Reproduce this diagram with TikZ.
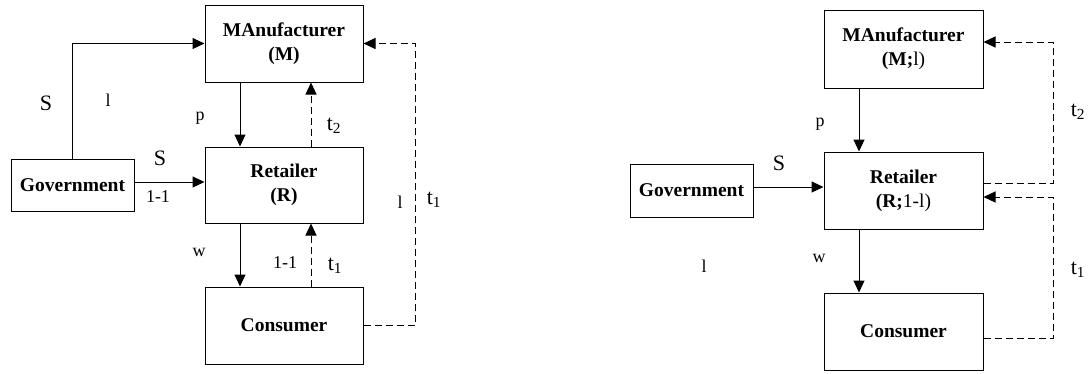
\documentclass[tikz,border=0pt]{standalone}
\usepackage{fontspec}
\setmainfont{Liberation Serif}
\usetikzlibrary{arrows.meta}
\begin{document}
\begin{tikzpicture}[x=1pt,y=-1pt,
  box/.style={draw,line width=1pt,minimum width=158pt,minimum height=77pt,inner sep=0pt,align=center,
    font=\rmfamily\fontsize{19.5}{24}\selectfont\bfseries},
  gbox/.style={draw,line width=1pt,minimum width=123pt,minimum height=52pt,inner sep=0pt,
    font=\rmfamily\fontsize{19.5}{24}\selectfont\bfseries},
  arr/.style={line width=1pt,-{Triangle[length=12pt,width=11pt]}},
  darr/.style={arr,dash pattern=on 7pt off 4pt},
  bigl/.style={font=\rmfamily\fontsize{22}{24}\selectfont,inner sep=0pt},
  smalll/.style={font=\rmfamily\fontsize{18}{20}\selectfont,inner sep=0pt}]
\useasboundingbox (0,0) rectangle (1089,373);
% ---------- left diagram ----------
\node[box] (M) at (284,43.5) {MAnufacturer\\(M)};
\node[box,minimum height=76pt] (R) at (284,185) {Retailer\\(R)};
\node[box] (C) at (284,325.5) {Consumer};
\node[gbox] (G) at (72.5,185) {Government};
\draw[arr] (G.north) |- (M.west);
\draw[arr] ([yshift=3pt]G.east) -- ([yshift=3pt]R.west);
\draw[arr] ([xshift=-44pt]M.south) -- ([xshift=-44pt]R.north);
\draw[darr] ([xshift=27pt]R.north) -- ([xshift=27pt]M.south);
\draw[arr] ([xshift=-44pt]R.south) -- ([xshift=-44pt]C.north);
\draw[darr] ([xshift=27pt]C.north) -- ([xshift=27pt]R.south);
\coordinate (k1) at (415,326);
\draw[darr] (C.east) -- (C.east -| k1) |- (M.east);
\node[bigl] (lS1) at (46,103) {S};
\node[smalll] (ll1) at (108,100) {l};
\node[smalll] (lp1) at (200,118) {p};
\node[bigl] (lt2) at (334,126) {t\textsubscript{2}};
\node[bigl] (lS2) at (160,158) {S};
\node[smalll] (l11) at (158,197) {1-1};
\node[smalll] (ll2) at (400,202) {l};
\node[bigl] (lt1a) at (434,200) {t\textsubscript{1}};
\node[smalll] (lw1) at (199,252) {w};
\node[smalll] (l12) at (285,263) {1-1};
\node[bigl] (lt1b) at (335,266) {t\textsubscript{1}};
% ---------- right diagram ----------
\node[box,minimum width=159pt,minimum height=78pt] (M2) at (903.5,49) {MAnufacturer\\(M;\normalfont l)};
\node[box,minimum width=159pt] (R2) at (903.5,190.5) {Retailer\\(R;\normalfont 1-l)};
\node[box,minimum width=159pt] (C2) at (903.5,331.5) {Consumer};
\node[gbox,minimum height=53pt] (G2) at (691.5,190.5) {Government};
\draw[arr] ([yshift=3.5pt]G2.east) -- ([yshift=3.5pt]R2.west);
\draw[arr] ([xshift=-44.5pt]M2.south) -- ([xshift=-44.5pt]R2.north);
\draw[arr] ([xshift=-44.5pt]R2.south) -- ([xshift=-44.5pt]C2.north);
\coordinate (k2) at (1053,0);
\draw[darr] ([yshift=7.5pt]R2.east) -- ([yshift=7.5pt]R2.east -| k2) |- ([yshift=7pt]M2.east);
\draw[darr] ([yshift=-6.5pt]C2.east) -- ([yshift=-6.5pt]C2.east -| k2) |- ([yshift=-6.5pt]R2.east);
\node[smalll] (lp2) at (820,124) {p};
\node[bigl] (lS3) at (779,163) {S};
\node[smalll] (ll3) at (704,266) {l};
\node[smalll] (lw2) at (819,258) {w};
\node[bigl] (lt2b) at (1078,112) {t\textsubscript{2}};
\node[bigl] (lt1c) at (1078,270) {t\textsubscript{1}};
\end{tikzpicture}
\end{document}
